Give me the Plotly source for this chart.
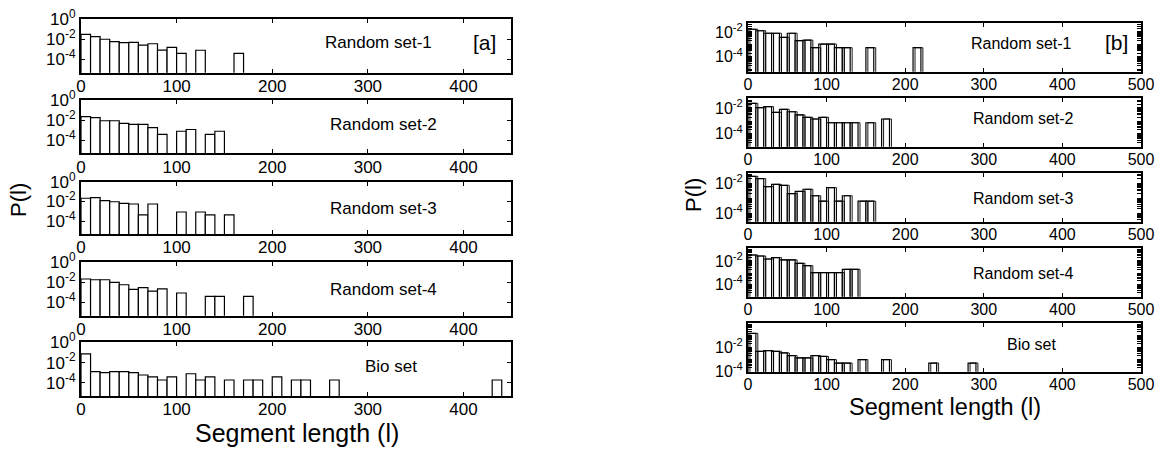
import plotly.graph_objects as go

W, H = 1172, 449

# ---------------- data (bin centres, probabilities) ----------------
# Panel [a]
a1_x = [5, 15, 25, 35, 45, 55, 65, 75, 85, 95, 105, 125, 165]
a1_p = [0.031, 0.018, 0.010, 0.0058, 0.0046, 0.0050, 0.0027, 0.0036, 0.00085, 0.0016, 0.00041, 0.00082, 0.00041]

a2_x = [5, 15, 25, 35, 45, 55, 65, 75, 85, 105, 115, 135, 145]
a2_p = [0.022, 0.0174, 0.0087, 0.0087, 0.0048, 0.0038, 0.0038, 0.0018, 0.00039, 0.00078, 0.00117, 0.00039, 0.00078]

a3_x = [5, 15, 25, 35, 45, 55, 65, 75, 105, 125, 135, 155]
a3_p = [0.021, 0.024, 0.012, 0.0093, 0.0065, 0.0055, 0.00043, 0.0055, 0.00085, 0.00085, 0.00043, 0.00043]

a4_x = [5, 15, 25, 35, 45, 55, 65, 75, 85, 105, 135, 145, 175]
a4_p = [0.020, 0.017, 0.017, 0.0093, 0.0055, 0.0019, 0.0028, 0.0013, 0.0022, 0.00085, 0.0004, 0.0004, 0.0004]

a5_x = [5, 15, 25, 35, 45, 55, 65, 75, 85, 95, 115, 125, 135, 155, 175, 185, 205, 225, 235, 265, 435]
a5_p = [0.071, 0.00126, 0.00100, 0.00126, 0.00126, 0.00100, 0.00059, 0.00038, 0.00019, 0.00038, 0.00079,
        0.00019, 0.00038, 0.00019, 0.00019, 0.00019, 0.00038, 0.00019, 0.00019, 0.00019, 0.00019]

# Panel [b]
b1_x = [5, 15, 25, 35, 45, 55, 65, 75, 85, 95, 105, 115, 125, 155, 215]
b1_p = [0.0166, 0.0126, 0.0079, 0.0079, 0.0037, 0.0079, 0.0020, 0.0022, 0.00054, 0.00107, 0.00107,
        0.00054, 0.00054, 0.00054, 0.00054]

b2_x = [5, 15, 25, 35, 45, 55, 65, 75, 85, 95, 105, 115, 125, 135, 155, 175]
b2_p = [0.0229, 0.0105, 0.0126, 0.0046, 0.0079, 0.0051, 0.0029, 0.0019, 0.0014, 0.0019, 0.00072,
        0.00072, 0.00072, 0.00072, 0.00072, 0.0014]

b3_x = [5, 15, 25, 35, 45, 55, 65, 75, 85, 95, 105, 115, 125, 145, 155]
b3_p = [0.028, 0.020, 0.0058, 0.0083, 0.0071, 0.0020, 0.0028, 0.0039, 0.00145, 0.00063, 0.0050,
        0.00063, 0.00145, 0.00063, 0.00063]

b4_x = [5, 15, 25, 35, 45, 55, 65, 75, 85, 95, 105, 115, 125, 135]
b4_p = [0.033, 0.027, 0.0148, 0.0195, 0.0123, 0.0123, 0.0063, 0.0039, 0.00098, 0.00098, 0.00098,
        0.00098, 0.0019, 0.0019]

b5_x = [5, 15, 25, 35, 45, 55, 65, 75, 85, 95, 105, 115, 125, 145, 175, 235, 285]
b5_p = [0.132, 0.0045, 0.0051, 0.0045, 0.0033, 0.0020, 0.0013, 0.0013, 0.0020, 0.0017, 0.00093,
        0.00049, 0.00049, 0.00093, 0.00093, 0.00049, 0.00049]

labels = ["Random set-1", "Random set-2", "Random set-3", "Random set-4", "Bio set"]
x_ticks_a = [0, 100, 200, 300, 400]
x_ticks_b = [0, 100, 200, 300, 400, 500]
bin_width = 10

left_data = [(a1_x, a1_p), (a2_x, a2_p), (a3_x, a3_p), (a4_x, a4_p), (a5_x, a5_p)]
right_data = [(b1_x, b1_p), (b2_x, b2_p), (b3_x, b3_p), (b4_x, b4_p), (b5_x, b5_p)]

# ---------------- layout geometry (pixels) ----------------
LEFT_X = (81, 511.3)
RIGHT_X = (748, 1141)
LEFT_Y = [(19, 72.7), (100, 153.3), (181.7, 234), (261.7, 315.7), (342.3, 396)]
RIGHT_Y = [(23.3, 71.7), (98.3, 146.7), (173, 221.7), (248.3, 296.7), (323.3, 371.7)]
LEFT_YR = [(-5.3, 0.001)] * 5
RIGHT_YR = [(-5.2, -1.3), (-5.0, -1.25), (-4.56, -1.33), (-5.1, -0.9), (-4.02, -0.05)]

FONT = "Liberation Sans"


def fx(p):
    return p / W


def fy(p):
    return 1 - p / H


fig = go.Figure()
layout = {}
annotations = []


def sup_label(e):
    return "10<sup>%d</sup>" % e


minor_vals = [m * 10 ** e for e in range(-6, 1) for m in range(2, 10)]

for side in range(2):
    for i in range(5):
        k = side * 5 + i + 1
        xs, ps = (left_data if side == 0 else right_data)[i]
        xname = "x" if k == 1 else "x%d" % k
        yname = "y" if k == 1 else "y%d" % k
        fig.add_trace(go.Bar(
            x=xs, y=ps, width=bin_width,
            marker=dict(color="white", line=dict(color="black", width=1.2)),
            xaxis=xname, yaxis=yname, showlegend=False, hoverinfo="skip",
        ))
        if side == 1:
            fig.add_trace(go.Bar(
                x=xs, y=ps, width=bin_width, offset=-bin_width / 2 + 2.5,
                marker=dict(color="rgba(0,0,0,0)", line=dict(color="black", width=0.9)),
                xaxis=xname, yaxis=yname, showlegend=False, hoverinfo="skip",
            ))
        xd = LEFT_X if side == 0 else RIGHT_X
        yd = (LEFT_Y if side == 0 else RIGHT_Y)[i]
        yr = (LEFT_YR if side == 0 else RIGHT_YR)[i]
        fs = 17 if side == 0 else 16
        if side == 0:
            yt = [1, 1e-2, 1e-4]
            ytt = [sup_label(0), sup_label(-2), sup_label(-4)]
        else:
            yt = [1e-2, 1e-4]
            ytt = [sup_label(-2), sup_label(-4)]
        xkey = "xaxis" if k == 1 else "xaxis%d" % k
        ykey = "yaxis" if k == 1 else "yaxis%d" % k
        layout[xkey] = dict(
            domain=[fx(xd[0]), fx(xd[1])], anchor=yname, automargin=False,
            range=[0, 450] if side == 0 else [0, 500],
            tickmode="array", tickvals=x_ticks_a if side == 0 else x_ticks_b,
            ticks="inside", ticklen=4, tickwidth=1, tickcolor="black",
            ticklabelstandoff=-3,
            showline=True, linecolor="black", linewidth=2, mirror="ticks",
            showgrid=False, zeroline=False,
            tickfont=dict(family=FONT, size=fs, color="black"),
        )
        ydict = dict(
            domain=[fy(yd[1]), fy(yd[0])], anchor=xname, type="log", automargin=False,
            range=list(yr),
            tickmode="array", tickvals=yt, ticktext=ytt,
            ticks="inside", ticklen=4, tickwidth=1, tickcolor="black",
            showline=True, linecolor="black", linewidth=2, mirror="ticks",
            showgrid=False, zeroline=False,
            tickfont=dict(family=FONT, size=fs, color="black"),
        )
        if side == 1:
            ydict["minor"] = dict(ticks="inside", ticklen=4, tickcolor="black", tickwidth=1,
                                  tickmode="array", tickvals=minor_vals, showgrid=False)
        layout[ykey] = ydict


def note(text, px, py, size, angle=0):
    annotations.append(dict(text=text, x=fx(px), y=fy(py), xref="paper", yref="paper",
                            xanchor="center", yanchor="middle", showarrow=False,
                            textangle=angle, font=dict(family=FONT, size=size, color="black")))


# panel labels
left_lab_pos = [(378, 42.7), (383, 125), (383, 208.3), (383, 289.3), (391, 366.7)]
right_lab_pos = [(1021, 43.3), (1023, 118.3), (1023, 198.3), (1023, 273.3), (1031, 344)]
for i in range(5):
    note(labels[i], left_lab_pos[i][0], left_lab_pos[i][1], 17)
    note(labels[i], right_lab_pos[i][0], right_lab_pos[i][1], 16)
note("[a]", 484, 42.5, 21)
note("[b]", 1116, 42.5, 21)
# axis titles
note("P(l)", 18, 200, 22, -90)
note("P(l)", 693, 195, 22, -90)
note("Segment length (l)", 296.5, 432.5, 25)
note("Segment length (l)", 945, 407, 23.5)

fig.update_layout(
    width=W, height=H,
    margin=dict(l=0, r=0, t=0, b=0, autoexpand=False),
    paper_bgcolor="white", plot_bgcolor="white",
    barmode="overlay",
    annotations=annotations,
    font=dict(family=FONT, color="black"),
    **layout,
)

fig.write_html("out.html", config={"displayModeBar": False},
               post_script="document.body.style.margin='0px';")
